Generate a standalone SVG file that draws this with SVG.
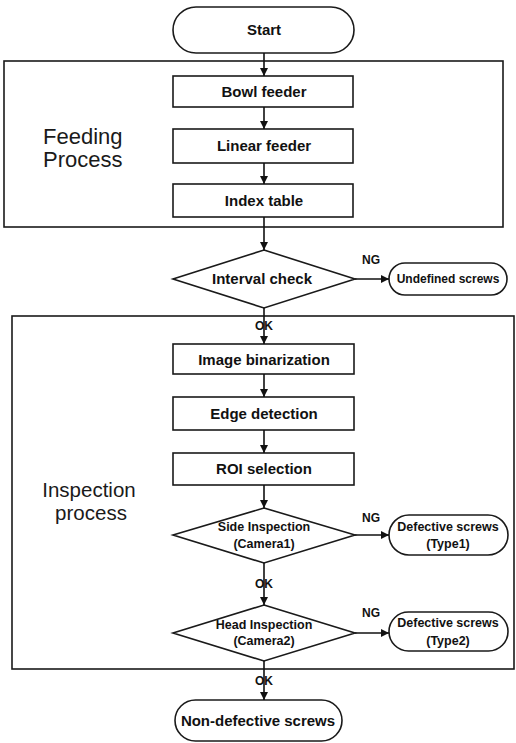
<svg xmlns="http://www.w3.org/2000/svg" width="516" height="743" viewBox="0 0 516 743">
<defs>
<marker id="ah" viewBox="0 0 10 10" refX="10" refY="5" markerWidth="8" markerHeight="8" markerUnits="userSpaceOnUse" orient="auto">
<path d="M0,0 L10,5 L0,10 z" fill="#111"/>
</marker>
<style>
.box{fill:#fff;stroke:#1a1a1a;stroke-width:1.6}
.grp{fill:none;stroke:#1a1a1a;stroke-width:1.6}
.t{font-family:"Liberation Sans",Arial,sans-serif;font-weight:bold;fill:#111;text-anchor:middle}
.m{font-size:15px}
.s{font-size:12.5px}
.u{font-size:12px}
.d{font-size:12.5px}
.l{font-size:12px}
.big{font-family:"Liberation Sans",Arial,sans-serif;font-size:22px;fill:#1a1a1a}
.big2{font-family:"Liberation Sans",Arial,sans-serif;font-size:20.5px;fill:#1a1a1a;text-anchor:middle}
.c{fill:none;stroke:#111;stroke-width:1.6;marker-end:url(#ah)}
</style>
</defs>
<rect width="516" height="743" fill="#fff"/>
<g id="feeding-process">
<rect class="grp" x="4" y="61" width="499" height="166"/>
<text class="big" x="43" y="144">Feeding</text>
<text class="big" x="43" y="167">Process</text>
</g>
<g id="inspection-process">
<rect class="grp" x="12" y="316" width="502" height="353"/>
<text class="big2" x="89" y="497">Inspection</text>
<text class="big2" x="91" y="520">process</text>
</g>
<g id="start">
<rect class="box" x="173" y="7" width="181" height="46" rx="23"/>
<text class="t m" x="264" y="35">Start</text>
</g>
<g id="bowl-feeder">
<rect class="box" x="173" y="76" width="180" height="31"/>
<text class="t m" x="264" y="97">Bowl feeder</text>
</g>
<g id="linear-feeder">
<rect class="box" x="173" y="129" width="180" height="34"/>
<text class="t m" x="264" y="151">Linear feeder</text>
</g>
<g id="index-table">
<rect class="box" x="173" y="184" width="180" height="33"/>
<text class="t m" x="264" y="206">Index table</text>
</g>
<g id="interval-check">
<polygon class="box" points="264,250 355,279 264,308 173,279"/>
<text class="t m" x="262" y="284">Interval check</text>
</g>
<g id="undefined-screws">
<rect class="box" x="389" y="263" width="118" height="32" rx="16"/>
<text class="t u" x="448" y="283">Undefined screws</text>
</g>
<g id="image-binarization">
<rect class="box" x="173" y="344" width="181" height="30"/>
<text class="t m" x="264" y="365">Image binarization</text>
</g>
<g id="edge-detection">
<rect class="box" x="173" y="397" width="181" height="33"/>
<text class="t m" x="264" y="419">Edge detection</text>
</g>
<g id="roi-selection">
<rect class="box" x="173" y="453" width="181" height="32"/>
<text class="t m" x="264" y="474">ROI selection</text>
</g>
<g id="side-inspection">
<polygon class="box" points="264,508 355,535 264,563 173,535"/>
<text class="t d" x="264" y="531">Side Inspection</text>
<text class="t d" x="264" y="548">(Camera1)</text>
</g>
<g id="defective-type1">
<rect class="box" x="389" y="515" width="119" height="40" rx="20"/>
<text class="t s" x="448" y="531">Defective screws</text>
<text class="t s" x="448" y="548">(Type1)</text>
</g>
<g id="head-inspection">
<polygon class="box" points="264,605 355,633 264,661 173,633"/>
<text class="t d" x="264" y="629">Head Inspection</text>
<text class="t d" x="264" y="645">(Camera2)</text>
</g>
<g id="defective-type2">
<rect class="box" x="389" y="612" width="119" height="39" rx="19.5"/>
<text class="t s" x="448" y="627">Defective screws</text>
<text class="t s" x="448" y="645">(Type2)</text>
</g>
<g id="non-defective">
<rect class="box" x="175" y="700" width="167" height="41" rx="20.5"/>
<text class="t m" x="258" y="726">Non-defective screws</text>
</g>
<g id="connectors">
<line class="c" x1="264" y1="53" x2="264" y2="76"/>
<line class="c" x1="264" y1="107" x2="264" y2="129"/>
<line class="c" x1="264" y1="163" x2="264" y2="184"/>
<line class="c" x1="264" y1="217" x2="264" y2="250"/>
<line class="c" x1="355" y1="279" x2="389" y2="279"/>
<line class="c" x1="264" y1="308" x2="264" y2="344"/>
<line class="c" x1="264" y1="374" x2="264" y2="397"/>
<line class="c" x1="264" y1="430" x2="264" y2="453"/>
<line class="c" x1="264" y1="485" x2="264" y2="508"/>
<line class="c" x1="355" y1="535" x2="389" y2="535"/>
<line class="c" x1="264" y1="563" x2="264" y2="605"/>
<line class="c" x1="355" y1="633" x2="389" y2="633"/>
<line class="c" x1="264" y1="661" x2="264" y2="700"/>
<text class="t l" x="371" y="264">NG</text>
<text class="t l" x="264" y="330">OK</text>
<text class="t l" x="371" y="522">NG</text>
<text class="t l" x="264" y="588">OK</text>
<text class="t l" x="371" y="617">NG</text>
<text class="t l" x="264" y="685">OK</text>
</g>
</svg>
